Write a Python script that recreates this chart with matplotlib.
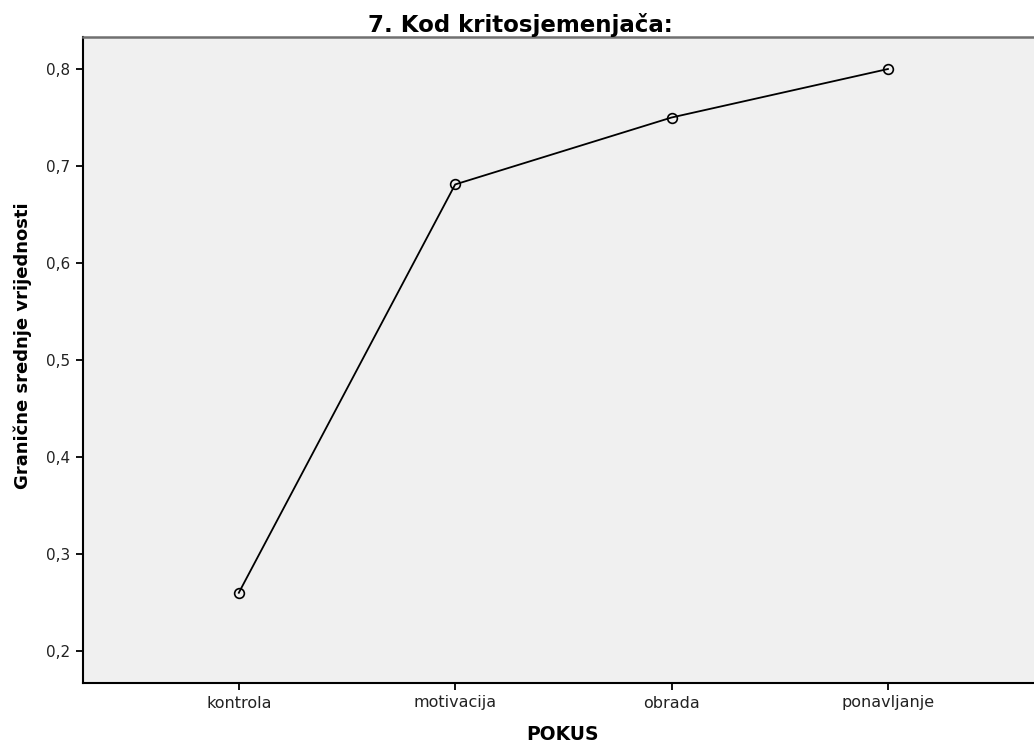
import matplotlib.pyplot as plt

# podaci
categories = ["kontrola", "motivacija", "obrada", "ponavljanje"]
means = [0.26, 0.681, 0.75, 0.80]
yticks = [0.2, 0.3, 0.4, 0.5, 0.6, 0.7, 0.8]
ytick_labels = ["0,2", "0,3", "0,4", "0,5", "0,6", "0,7", "0,8"]

fig = plt.figure(figsize=(10.34, 7.46), dpi=100)
ax = fig.add_axes([83 / 1034, 1 - 683 / 746, 1 - 83 / 1034, (683 - 37) / 746])
ax.set_facecolor("#f0f0f0")

xs = list(range(len(categories)))
ax.plot(xs, means, color="black", linewidth=1.3, marker="o", markersize=7,
        markerfacecolor="none", markeredgecolor="black", markeredgewidth=1.2)

ax.set_xlim(-0.72, 3.675)
ax.set_ylim(0.167, 0.833)
ax.set_xticks(xs)
ax.set_xticklabels(categories, fontsize=11.5)
ax.set_yticks(yticks)
ax.set_yticklabels(ytick_labels, fontsize=11)
ax.tick_params(axis="both", direction="out", length=5, width=1.3, colors="black", pad=4)
for lbl in ax.get_xticklabels() + ax.get_yticklabels():
    lbl.set_color("#222222")

ax.spines["right"].set_visible(False)
ax.spines["top"].set_color("#707070")
ax.spines["top"].set_linewidth(1.8)
ax.spines["left"].set_linewidth(1.5)
ax.spines["bottom"].set_linewidth(1.5)

fig.text(23 / 1034, 1 - 346 / 746, "Granične srednje vrijednosti", fontsize=13,
         fontweight="bold", rotation=90, ha="center", va="center")
fig.text(562 / 1034, 1 - 734 / 746, "POKUS", fontsize=13.5, fontweight="bold",
         ha="center", va="center")
fig.text(520 / 1034, 1 - 25 / 746, "7. Kod kritosjemenjača:", fontsize=16.5,
         fontweight="bold", ha="center", va="center")

fig.savefig("out.png", dpi=100)
